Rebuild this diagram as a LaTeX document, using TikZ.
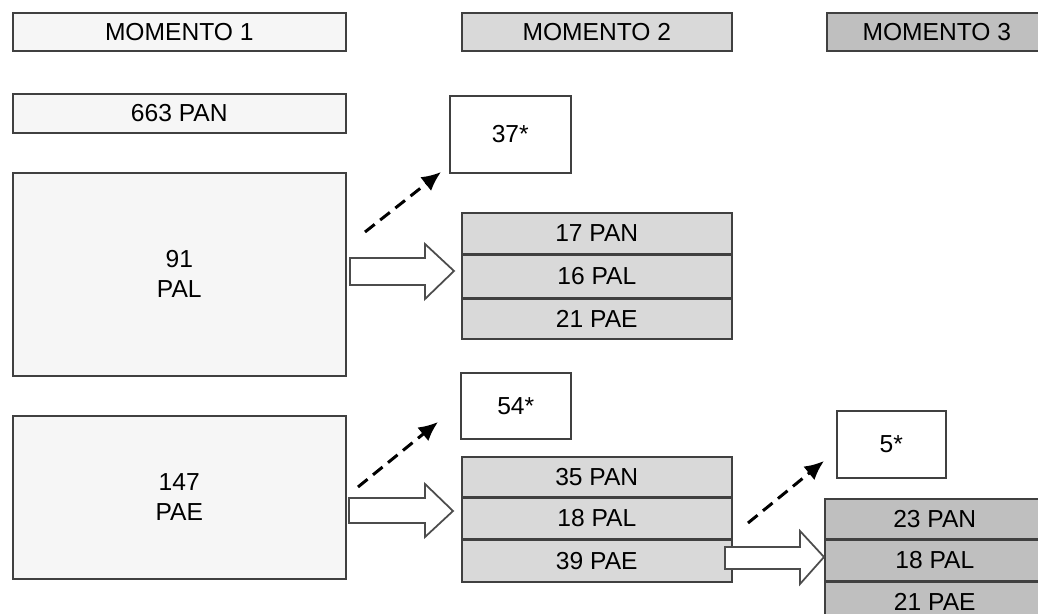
\documentclass[tikz,border=0pt]{standalone}
\usepackage{fontspec}
\setmainfont{Liberation Sans}
\usetikzlibrary{arrows.meta}

\begin{document}
\begin{tikzpicture}[x=0.02cm,y=-0.02cm,line join=miter,
  box/.style={draw=black!75,line width=0.9pt,anchor=north west,inner sep=0pt,
    align=center,font=\fontsize{14}{17}\selectfont},
  light/.style={box,fill=gray!7},
  mid/.style={box,fill=gray!30},
  dark/.style={box,fill=gray!50},
  blank/.style={box,fill=white},
  dasharrow/.style={line width=1.7pt,dash pattern=on 7pt off 4pt,
    -{Latex[length=11pt,width=10pt]}},
  blockarrow/.style={draw=black!70,line width=1pt,fill=white}]
  \clip (0,0) rectangle (1038,614);
  \fill[white] (0,0) rectangle (1038,614);
  % column heads
  \node[light,minimum width=6.66cm,minimum height=0.76cm] (m1) at (12,12) {MOMENTO 1};
  \node[mid,minimum width=5.40cm,minimum height=0.76cm] (m2) at (461,12) {MOMENTO 2};
  \node[dark,minimum width=4.40cm,minimum height=0.76cm] (m3) at (826,12) {MOMENTO 3};
  % moment 1
  \node[light,minimum width=6.66cm,minimum height=0.78cm] (pan) at (12,93) {663 PAN};
  \node[light,minimum width=6.66cm,minimum height=4.06cm] (pal) at (12,172) {91\\PAL};
  \node[light,minimum width=6.66cm,minimum height=3.26cm] (pae) at (12,415) {147\\PAE};
  % moment 2
  \node[blank,minimum width=2.42cm,minimum height=1.54cm] (lossa) at (449,95) {37*};
  \node[mid,minimum width=5.40cm,minimum height=0.82cm] (apan) at (461,212) {17 PAN};
  \node[mid,minimum width=5.40cm,minimum height=0.84cm] (apal) at (apan.south west) {16 PAL};
  \node[mid,minimum width=5.40cm,minimum height=0.80cm] (apae) at (apal.south west) {21 PAE};
  \node[blank,minimum width=2.20cm,minimum height=1.32cm] (lossb) at (460,372) {54*};
  \node[mid,minimum width=5.40cm,minimum height=0.80cm] (bpan) at (461,456) {35 PAN};
  \node[mid,minimum width=5.40cm,minimum height=0.80cm] (bpal) at (bpan.south west) {18 PAL};
  \node[mid,minimum width=5.40cm,minimum height=0.84cm] (bpae) at (bpal.south west) {39 PAE};
  % moment 3
  \node[blank,minimum width=2.18cm,minimum height=1.34cm] (lossc) at (836,410) {5*};
  \node[dark,minimum width=4.40cm,minimum height=0.80cm] (cpan) at (824,498) {23 PAN};
  \node[dark,minimum width=4.40cm,minimum height=0.80cm] (cpal) at (cpan.south west) {18 PAL};
  \node[dark,minimum width=4.40cm,minimum height=0.80cm] (cpae) at (cpal.south west) {21 PAE};
  % dropouts
  \coordinate (da0) at (365,232);
  \coordinate (da1) at (441,172);
  \coordinate (db0) at (358,487);
  \coordinate (db1) at (438,422);
  \coordinate (dc0) at (748,523);
  \coordinate (dc1) at (824,461);
  \draw[dasharrow] (da0) -- (da1);
  \draw[dasharrow] (db0) -- (db1);
  \draw[dasharrow] (dc0) -- (dc1);
  % transfers
  \draw[blockarrow] (350,258) -- (425,258) -- (425,244) -- (454,271)
    -- (425,299) -- (425,285) -- (350,285) -- cycle;
  \draw[blockarrow] (349,498) -- (425,498) -- (425,484) -- (453,511)
    -- (425,537) -- (425,523) -- (349,523) -- cycle;
  \draw[blockarrow] (725,547) -- (800,547) -- (800,531) -- (824,557)
    -- (800,584) -- (800,569) -- (725,569) -- cycle;
\end{tikzpicture}
\end{document}
